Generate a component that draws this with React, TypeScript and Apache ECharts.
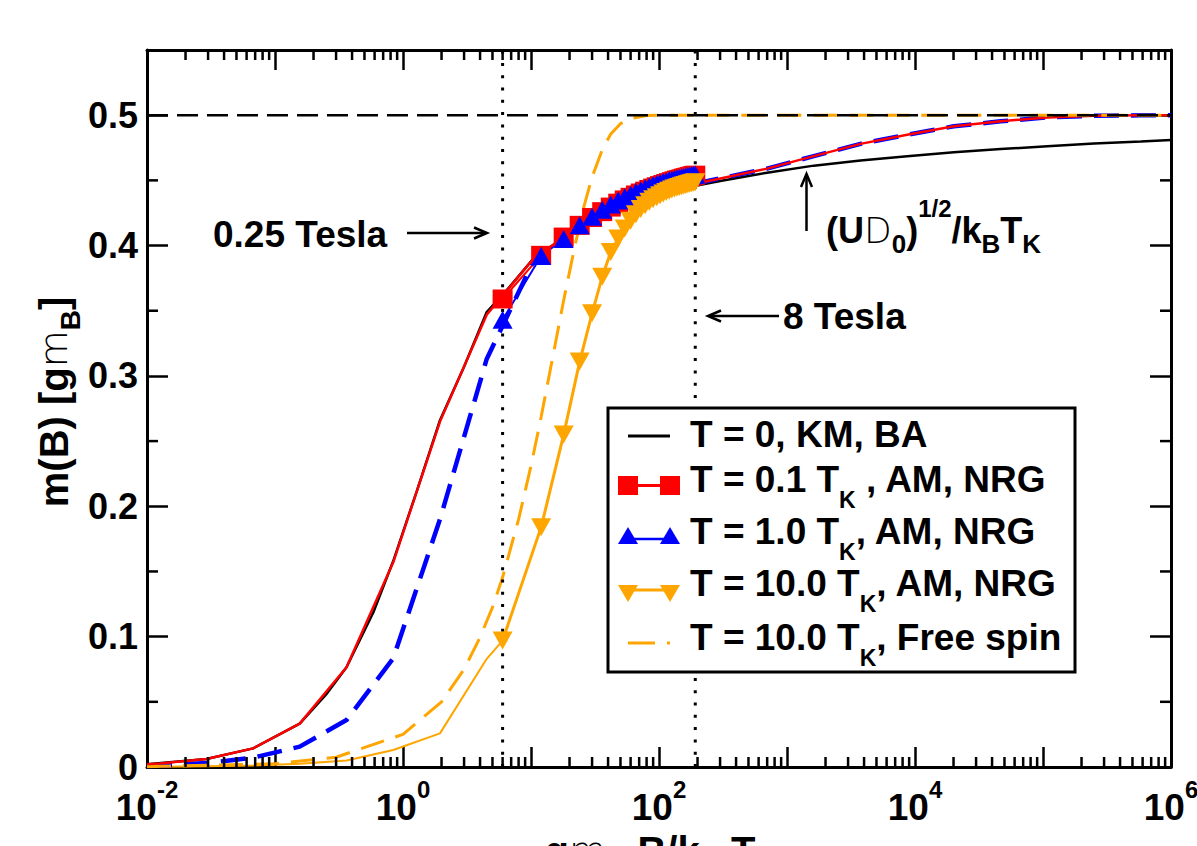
import React, { useEffect, useRef } from "react";
import * as echarts from "echarts";

const FONT = '"Liberation Sans", Arial, Helvetica, sans-serif';
const LIGHT = '"DejaVu Sans", sans-serif';

// ---- axis ranges / ticks ----
const xMin = 0.01;
const xMax = 1e6;
const yMin = 0;
const yMax = 0.55;
const yInterval = 0.1;
const yMinorTicks = [0.05, 0.15, 0.25, 0.35, 0.45];
const xMinorTicks: number[] = [];
for (let e = -2; e < 6; e++) for (let k = 2; k <= 9; k++) xMinorTicks.push(k * Math.pow(10, e));

// ---- T = 0 Bethe-Ansatz curve ----
const kmX = [0.01, 0.0291, 0.0675, 0.156, 0.25, 0.362, 0.586, 0.839, 1.28, 1.945, 3.0, 4.51, 6.5, 10.45, 24.2, 56.1, 130, 301, 698, 1618, 3750, 8690, 20140, 46670, 108100, 250600, 580700, 1000000];
const blackKM = [0.0021, 0.0062, 0.0143, 0.0333, 0.0555, 0.0765, 0.1185, 0.158, 0.2115, 0.266, 0.307, 0.349, 0.366, 0.39, 0.4145, 0.432, 0.4425, 0.4495, 0.4559, 0.4613, 0.4652, 0.4685, 0.4715, 0.474, 0.4762, 0.4782, 0.4798, 0.481];

// ---- AM field grid ----
const amX = [0.01, 0.0126, 0.0291, 0.0675, 0.156, 0.362, 0.839, 1.945, 4.51, 10.45, 24.2, 56.1, 130, 301, 698, 1618, 3750, 8690, 20140, 46670, 108100, 250600, 580700, 1000000];
const redAM = [0.0021, 0.0027, 0.0062, 0.0143, 0.0333, 0.0765, 0.157, 0.265, 0.347, 0.39, 0.415, 0.433, 0.444, 0.4515, 0.459, 0.4686, 0.478, 0.485, 0.4915, 0.4953, 0.4983, 0.4995, 0.4999, 0.5];
const blueAM = [0.0008, 0.001, 0.003, 0.0072, 0.0156, 0.036, 0.0834, 0.19, 0.313, 0.388, 0.415, 0.433, 0.444, 0.4515, 0.459, 0.4686, 0.478, 0.485, 0.4915, 0.4953, 0.4983, 0.4995, 0.4999, 0.5];
const orangeAMX = [0.01, 0.0126, 0.0291, 0.0675, 0.156, 0.362, 0.839, 1.945, 4.51, 6];
const orangeAM = [0.0002, 0.0002, 0.0005, 0.0011, 0.0024, 0.005, 0.013, 0.0258, 0.083, 0.097];

// ---- NRG points: 0.25 T ... 8 T ----
const nrgX = [6, 12, 18, 24, 30, 36, 42, 48, 54, 60, 66, 72, 78, 84, 90, 96, 102, 108, 114, 120, 126, 132, 138, 144, 150, 156, 162, 168, 174, 180, 186, 192];
const redNRG = [0.359, 0.3925, 0.4065, 0.4155, 0.4215, 0.426, 0.4295, 0.4325, 0.435, 0.437, 0.4388, 0.4403, 0.4417, 0.443, 0.4441, 0.4451, 0.446, 0.4468, 0.4476, 0.4483, 0.449, 0.4496, 0.4502, 0.4507, 0.4512, 0.4517, 0.4521, 0.4525, 0.4529, 0.4533, 0.4537, 0.454];
const blueNRG = [0.343, 0.392, 0.405, 0.4155, 0.422, 0.4275, 0.4315, 0.4345, 0.437, 0.439, 0.441, 0.4425, 0.444, 0.4452, 0.4463, 0.4472, 0.448, 0.4487, 0.4494, 0.45, 0.4505, 0.451, 0.4514, 0.4518, 0.4522, 0.4526, 0.453, 0.4533, 0.4536, 0.4539, 0.4542, 0.4545];
const orangeNRG = [0.097, 0.184, 0.255, 0.311, 0.348, 0.376, 0.395, 0.4055, 0.413, 0.419, 0.424, 0.428, 0.431, 0.4335, 0.4355, 0.437, 0.4385, 0.44, 0.441, 0.442, 0.443, 0.4437, 0.4443, 0.445, 0.4455, 0.446, 0.4465, 0.447, 0.4474, 0.4478, 0.4482, 0.4486];

// ---- free spin T = 10 TK ----
const freeX = [0.01, 0.1, 0.3, 1, 2, 3, 4, 5, 6, 8, 10, 12, 15, 18, 22, 26, 30, 36, 42, 50, 60, 80, 100, 1000000];
const freeY = [0.00025, 0.0025, 0.0075, 0.025, 0.05, 0.075, 0.0995, 0.1225, 0.1455, 0.19, 0.231, 0.2685, 0.3175, 0.358, 0.3995, 0.4305, 0.4525, 0.4735, 0.4855, 0.4935, 0.4975, 0.4997, 0.49995, 0.5];

// ---- reference lines ----
const saturation = 0.5;
const teslaX = [6, 192]; // 0.25 Tesla, 8 Tesla

const RED = "#ff0000";
const BLUE = "#0000ff";
const ORANGE = "#ffa500";

const zip = (xs: number[], ys: number[]) => xs.map((x, i) => [x, ys[i]]);

const tok = (size: number, extra: any = {}) => ({
  fontSize: size, fontWeight: "bold", fontFamily: FONT, fill: "#000", color: "#000", verticalAlign: "middle", ...extra,
});

const legendRich = {
  t: tok(37),
  s: tok(23, { padding: [42, 0, 0, 0] }),
};

export default function App() {
  const ref = useRef<HTMLDivElement>(null);
  useEffect(() => {
    if (!ref.current) return;
    const chart = echarts.init(ref.current, null, { renderer: "svg" });

    const minorX = {
      type: "custom", coordinateSystem: "cartesian2d", silent: true, clip: false, z: 5,
      data: xMinorTicks.map((v) => [v, 0]),
      renderItem: (_p: any, api: any) => {
        const v = api.value(0);
        const b = api.coord([v, yMin]);
        const t = api.coord([v, yMax]);
        return {
          type: "group",
          children: [
            { type: "line", shape: { x1: b[0], y1: b[1], x2: b[0], y2: b[1] - 10 }, style: { stroke: "#000", lineWidth: 2.5 } },
            { type: "line", shape: { x1: t[0], y1: t[1], x2: t[0], y2: t[1] + 10 }, style: { stroke: "#000", lineWidth: 2.5 } },
          ],
        };
      },
    };
    const minorY = {
      type: "custom", coordinateSystem: "cartesian2d", silent: true, clip: false, z: 5,
      data: yMinorTicks.map((v) => [1, v]),
      renderItem: (_p: any, api: any) => {
        const v = api.value(1);
        const l = api.coord([xMin, v]);
        const r = api.coord([xMax, v]);
        return {
          type: "group",
          children: [
            { type: "line", shape: { x1: l[0], y1: l[1], x2: l[0] + 11, y2: l[1] }, style: { stroke: "#000", lineWidth: 2.5 } },
            { type: "line", shape: { x1: r[0], y1: r[1], x2: r[0] - 11, y2: r[1] }, style: { stroke: "#000", lineWidth: 2.5 } },
          ],
        };
      },
    };

    const line = (name: string, data: any[], color: string, width: number, type: any = "solid", extra: any = {}) => ({
      type: "line", name, data, symbol: "none", silent: true,
      lineStyle: { color, width, type, cap: "butt" }, itemStyle: { color }, ...extra,
    });

    const xLabelRich = {
      b: { fontSize: 37, fontWeight: "bold", fontFamily: FONT, color: "#000", verticalAlign: "middle" },
      s: { fontSize: 24, fontWeight: "bold", fontFamily: FONT, color: "#000", verticalAlign: "middle", padding: [0, 0, 36, 0] },
    };

    const xAxisBase = {
      type: "log", logBase: 10, min: xMin, max: xMax,
      axisLine: { show: true, onZero: false, lineStyle: { color: "#000", width: 3 } },
      axisTick: { show: true, inside: true, length: 20, lineStyle: { color: "#000", width: 2.5 } },
      splitLine: { show: false },
      minorTick: { show: false },
    };
    const yAxisBase = {
      type: "value", min: yMin, max: yMax, interval: yInterval,
      axisLine: { show: true, onZero: false, lineStyle: { color: "#000", width: 3 } },
      axisTick: { show: true, inside: true, length: 21, lineStyle: { color: "#000", width: 2.5 } },
      splitLine: { show: false },
    };

    const legendRow = (y: number, text: string) => ({
      type: "text", z: 101, x: 690, y,
      style: { text, rich: legendRich, fontSize: 37, fontWeight: "bold", fontFamily: FONT, fill: "#000", align: "left", verticalAlign: "middle" },
    });
    const sq = (cx: number, cy: number) => ({ type: "rect", z: 102, shape: { x: cx - 10, y: cy - 9.5, width: 20, height: 19 }, style: { fill: RED } });
    const triUp = (cx: number, cy: number) => ({ type: "polygon", z: 102, shape: { points: [[cx - 10, cy + 8.5], [cx + 10, cy + 8.5], [cx, cy - 8.5]] }, style: { fill: BLUE } });
    const triDn = (cx: number, cy: number) => ({ type: "polygon", z: 102, shape: { points: [[cx - 10, cy - 8.5], [cx + 10, cy - 8.5], [cx, cy + 8.5]] }, style: { fill: ORANGE } });
    const seg = (x1: number, y1: number, x2: number, y2: number, stroke: string, w: number, dash?: number[]) => ({
      type: "line", z: 101, shape: { x1, y1, x2, y2 }, style: { stroke, lineWidth: w, lineDash: dash, lineCap: "butt" },
    });
    const head = (pts: number[][]) => ({ type: "polyline", z: 101, shape: { points: pts }, style: { stroke: "#000", lineWidth: 2.5, fill: null } });

    const annRich = {
      b: tok(36),
      l: { fontSize: 36, fontWeight: 200, fontFamily: LIGHT, fill: "#000", verticalAlign: "middle" },
      sub: tok(26, { padding: [28, 0, 0, 0] }),
      sup: tok(24, { padding: [0, 0, 43, 0] }),
    };
    const titleRich = {
      b: tok(40),
      l: { fontSize: 38, fontWeight: 200, fontFamily: LIGHT, fill: "#000", verticalAlign: "middle" },
      sub: tok(28, { padding: [32, 0, 0, 0] }),
    };

    const option: any = {
      animation: false,
      grid: { left: 147, right: 26, top: 50, bottom: 79, containLabel: false, outerBoundsMode: "none" },
      xAxis: [
        {
          ...xAxisBase, position: "bottom",
          axisLabel: {
            show: true, margin: 10, showMinLabel: true, showMaxLabel: true,
            formatter: (v: number) => {
              const e = Math.round(Math.log10(v));
              return e % 2 === 0 ? `{b|10}{s|${e}}` : "";
            },
            rich: xLabelRich,
          },
        },
        { ...xAxisBase, position: "top", axisLabel: { show: false } },
      ],
      yAxis: [
        {
          ...yAxisBase, position: "left",
          axisLabel: {
            show: true, margin: 9, color: "#000", fontSize: 36, fontWeight: "bold", fontFamily: FONT,
            formatter: (v: number) => (v > 0.5001 ? "" : v === 0 ? "0" : v.toFixed(1)),
          },
        },
        { ...yAxisBase, position: "right", axisLabel: { show: false } },
      ],
      series: [
        minorX,
        minorY,
        line("T = 0, KM, BA", zip(kmX, blackKM), "#000", 2.5),
        line("T = 10.0 TK AM", zip(orangeAMX, orangeAM), ORANGE, 2),
        line("T = 0.1 TK NRG", zip(nrgX, redNRG), RED, 2, "solid", { symbol: "rect", symbolSize: [20, 19], showSymbol: true, showAllSymbol: true }),
        line("T = 1.0 TK NRG", zip(nrgX, blueNRG), BLUE, 2, "solid", { symbol: "triangle", symbolSize: [20, 18], showSymbol: true, showAllSymbol: true }),
        line("T = 10.0 TK NRG", zip(nrgX, orangeNRG), ORANGE, 3, "solid", { symbol: "triangle", symbolRotate: 180, symbolSize: [20, 18], showSymbol: true, showAllSymbol: true }),
        line("T = 1.0 TK AM", zip(amX, blueAM), BLUE, 4.5, [25, 12]),
        line("T = 0.1 TK AM", zip(amX, redAM), RED, 2.5),
        line("T = 10.0 TK free spin", zip(freeX, freeY), ORANGE, 3, [24, 12]),
        line("saturation", [[xMin, saturation], [xMax, saturation]], "#000", 2.5, [21, 9]),
        line("0.25 Tesla", [[teslaX[0], yMin], [teslaX[0], yMax]], "#000", 3, [3, 9.3]),
        line("8 Tesla", [[teslaX[1], yMin], [teslaX[1], yMax]], "#000", 3, [3, 9.3]),
      ],
      graphic: [
        // axis titles
        {
          type: "text", z: 100, x: 54, y: 402, rotation: Math.PI / 2,
          style: { text: "{b|m(B) [g}{l|m}{sub|B}{b|]}", rich: titleRich, fontSize: 40, fontWeight: "bold", fontFamily: FONT, fill: "#000", align: "center", verticalAlign: "middle" },
        },
        {
          type: "text", z: 100, x: 650, y: 851,
          style: { text: "{b|g}{l|m}{sub|B}{b| B/k}{sub|B}{b| T}", rich: titleRich, fontSize: 40, fontWeight: "bold", fontFamily: FONT, fill: "#000", align: "center", verticalAlign: "middle" },
        },
        // annotations
        { type: "text", z: 100, x: 213, y: 234, style: { text: "0.25 Tesla", fontSize: 37, fontWeight: "bold", fontFamily: FONT, fill: "#000", align: "left", verticalAlign: "middle" } },
        seg(407, 233, 486, 233, "#000", 2.5),
        head([[474, 227.5], [487, 233], [474, 238.5]]),
        { type: "text", z: 100, x: 783, y: 316, style: { text: "8 Tesla", fontSize: 37, fontWeight: "bold", fontFamily: FONT, fill: "#000", align: "left", verticalAlign: "middle" } },
        seg(709, 316, 779, 316, "#000", 2.5),
        head([[721, 310.5], [708, 316], [721, 321.5]]),
        seg(806.5, 231, 806.5, 175, "#000", 2.5),
        head([[801, 187], [806.5, 174], [812, 187]]),
        {
          type: "text", z: 100, x: 826, y: 230,
          style: { text: "{b|(U}{l|D}{sub|0}{b|)}{sup|1/2}{b|/k}{sub|B}{b|T}{sub|K}", rich: annRich, fontSize: 36, fontWeight: "bold", fontFamily: FONT, fill: "#000", align: "left", verticalAlign: "middle" },
        },
        // legend
        { type: "rect", z: 100, shape: { x: 608, y: 408, width: 467, height: 264 }, style: { fill: "#fff", stroke: "#000", lineWidth: 3 } },
        seg(628, 436, 670, 436, "#000", 3),
        seg(628, 485.5, 670, 485.5, RED, 3), sq(628, 485.5), sq(670, 485.5),
        seg(628, 539, 670, 539, BLUE, 2.5), triUp(628, 535.5), triUp(670, 535.5),
        seg(628, 590, 670, 590, ORANGE, 3), triDn(628, 593.5), triDn(670, 593.5),
        seg(628, 643, 670, 643, ORANGE, 3, [27, 12]),
        legendRow(434, "{t|T = 0, KM, BA}"),
        legendRow(479, "{t|T = 0.1 T}{s|K}{t| , AM, NRG}"),
        legendRow(531, "{t|T = 1.0 T}{s|K}{t|, AM, NRG}"),
        legendRow(583, "{t|T = 10.0 T}{s|K}{t|, AM, NRG}"),
        legendRow(637, "{t|T = 10.0 T}{s|K}{t|, Free spin}"),
      ],
    };
    chart.setOption(option);
    return () => chart.dispose();
  }, []);
  return <div ref={ref} style={{ position: "fixed", left: 0, top: 0, width: 1197, height: 846, background: "#fff" }} />;
}
